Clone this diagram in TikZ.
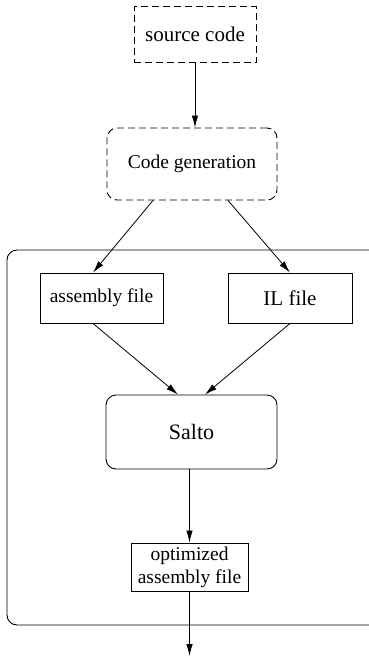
\documentclass[tikz,border=0pt]{standalone}
\usepackage{fontspec}
\setmainfont{Liberation Serif}
\usetikzlibrary{arrows.meta}
\begin{document}
\begin{tikzpicture}[x=1pt,y=-1pt,
  every node/.style={font=\fontsize{19.5}{23}\selectfont, inner sep=0pt},
  box/.style={draw, line width=0.9pt},
  dbox/.style={draw, line width=0.9pt, dash pattern=on 7pt off 4pt},
  arr/.style={line width=0.8pt, -{Latex[length=12pt,width=6.5pt]}},
  ln/.style={line width=0.8pt}]
\useasboundingbox (0,0) rectangle (369,657);
% container
\draw[line width=0.9pt, rounded corners=10pt] (370,250) -- (7,250) -- (7,625) -- (370,625);
\node[dbox, minimum width=122pt, minimum height=56pt, font=\fontsize{21}{25}\selectfont] (src) at (195,34.5) {source code};
\node[dbox, rounded corners=10pt, minimum width=170pt, minimum height=72pt] (cg) at (192,164) {Code generation};
\node[box, minimum width=123pt, minimum height=50pt, fill=white] (asm) at (101.5,298) {assembly file};
\node[box, minimum width=124pt, minimum height=50pt, fill=white, font=\fontsize{21}{25}\selectfont] (il) at (290,298) {IL file};
\node[box, rounded corners=10pt, minimum width=171pt, minimum height=74pt, font=\fontsize{22}{26}\selectfont] (salto) at (191.5,432) {Salto};
\node[box, minimum width=117pt, minimum height=48pt, align=center, fill=white] (opt) at (189.5,567) {optimized\\assembly file};
\coordinate (out) at (189.5,656);
\draw[arr] (src.south) -- (src.south |- cg.north);
\draw[arr] ([xshift=-39pt]cg.south) -- ([xshift=-8.5pt]asm.north);
\draw[arr] ([xshift=36pt]cg.south) -- (il.north);
\draw[arr] ([xshift=-8.5pt]asm.south) -- ([xshift=-13.5pt]salto.north);
\draw[arr] (il.south) -- ([xshift=13.5pt]salto.north);
\draw[arr] (opt.north |- salto.south) -- (opt.north);
\draw[arr] (opt.south) -- (out);
\end{tikzpicture}
\end{document}
